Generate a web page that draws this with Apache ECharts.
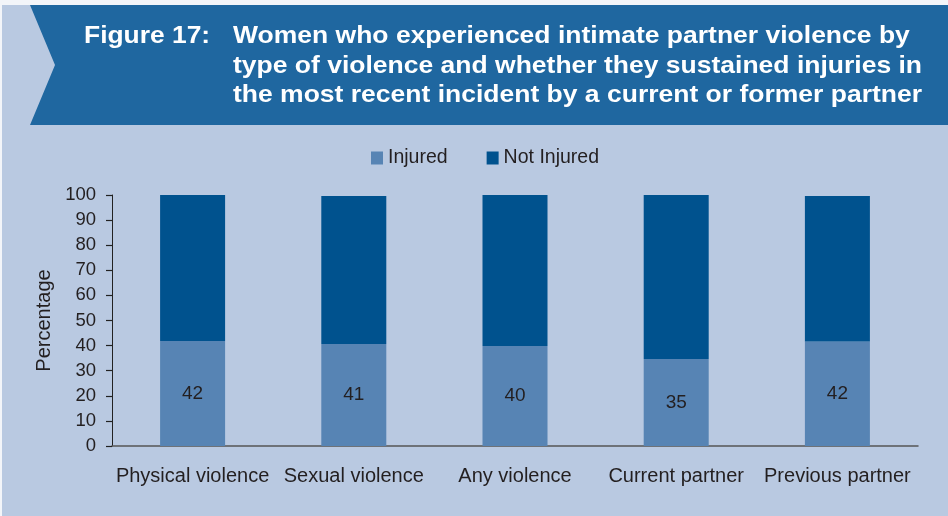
<!DOCTYPE html>
<html>
<head>
<meta charset="UTF-8">
<title>Figure 17</title>
<style>
	* { margin: 0; padding: 0; }
	html, body { width: 100%; height: 100%; overflow: hidden; background: #f3f5f9; }
	#chart { width: 948px; height: 516px; }
</style>
</head>
<body>
<div id="chart"></div>
<script src="https://cdn.jsdelivr.net/npm/echarts@6/dist/echarts.min.js"></script>
<script>
	// data
	var categories = ['Physical violence', 'Sexual violence', 'Any violence', 'Current partner', 'Previous partner'];
	var injured = [41.8, 40.6, 39.8, 34.7, 41.6];
	var notInjured = [58.2, 59.0, 60.2, 65.7, 58.0];
	var seriesNames = ['Injured', 'Not Injured'];
	var titleLabel = 'Figure 17:';
	var titleLines = [
		'Women who experienced intimate partner violence by',
		'type of violence and whether they sustained injuries in',
		'the most recent incident by a current or former partner'
	];

	var font = '"Liberation Sans", Arial, sans-serif';
	var textColor = '#231f20';

	var chart = echarts.init(document.getElementById('chart'));

	// banner texts
	var titleFont = 'bold 24px ' + font;
	var headerTexts = [{
		type: 'text', x: 84, y: 36.5, scaleX: 1.1, z: 3,
		style: { text: titleLabel, font: titleFont, fill: '#fff', verticalAlign: 'middle' }
	}];
	titleLines.forEach(function(line, i) {
		headerTexts.push({
			type: 'text', x: 233, y: 36.5 + i * 29.5, scaleX: 1.104, z: 3,
			style: { text: line, font: titleFont, fill: '#fff', verticalAlign: 'middle' }
		});
	});

	var option = {
		backgroundColor: 'transparent',
		textStyle: { fontFamily: font },
		graphic: [{
			type: 'rect', z: -10, silent: true,
			shape: { x: 2, y: 5, width: 946, height: 511 },
			style: { fill: '#b9c9e1' }
		}, {
			type: 'polygon', z: 1, silent: true,
			shape: { points: [[30, 5], [948, 5], [948, 125], [30, 125], [55, 65]] },
			style: { fill: '#1f67a0' }
		}].concat(headerTexts),
		color: ['#5784b4', '#00528e'],
		legend: {
			left: 366,
			top: 143,
			icon: 'rect',
			itemWidth: 12,
			itemHeight: 13,
			itemGap: 39,
			textStyle: { fontSize: 19.5, color: textColor, fontFamily: font },
			data: seriesNames
		},
		grid: {
			left: 112,
			right: 30,
			top: 195,
			bottom: 70
		},
		xAxis: {
			type: 'category',
			data: categories,
			axisLine: { lineStyle: { color: '#555', width: 1.5 } },
			axisTick: { show: false },
			axisLabel: { fontSize: 20, color: textColor, margin: 20, fontFamily: font, interval: 0 }
		},
		yAxis: {
			type: 'value',
			min: 0,
			max: 100,
			interval: 10,
			name: 'Percentage',
			nameLocation: 'middle',
			nameRotate: 90,
			nameGap: 58,
			nameTextStyle: { fontSize: 20, color: textColor, fontFamily: font },
			axisLine: { show: true, lineStyle: { color: '#222', width: 1 } },
			axisTick: { show: true, inside: false, length: 6, lineStyle: { color: '#222', width: 1.2 } },
			splitLine: { show: false },
			axisLabel: { fontSize: 18.5, color: textColor, margin: 16, fontFamily: font }
		},
		series: [{
			name: seriesNames[0],
			type: 'bar',
			stack: 'total',
			barWidth: 65,
			data: injured,
			label: {
				show: true,
				position: 'inside',
				fontSize: 19,
				color: textColor,
				fontFamily: font,
				formatter: function(p) { return Math.round(p.value); }
			}
		}, {
			name: seriesNames[1],
			type: 'bar',
			stack: 'total',
			barWidth: 65,
			data: notInjured
		}]
	};
	chart.setOption(option);
</script>
</body>
</html>
